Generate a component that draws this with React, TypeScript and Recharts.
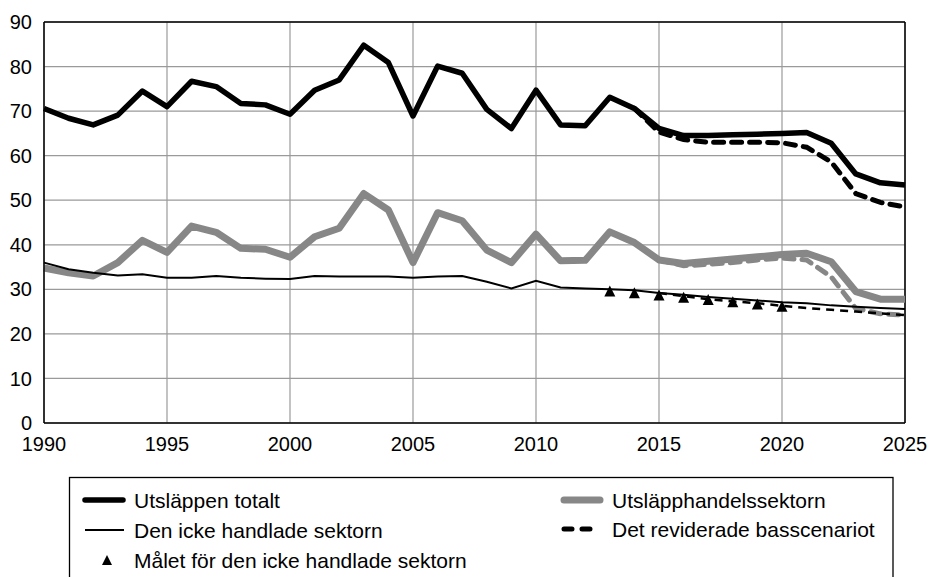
import React from "react";
import {
  CartesianGrid,
  ComposedChart,
  Line,
  ReferenceLine,
  XAxis,
  YAxis,
} from "recharts";

const years = Array.from({ length: 36 }, (_, i) => 1990 + i);

// Utsläppen totalt
const totalt = [
  70.6, 68.4, 66.9, 69.1, 74.5, 71.0, 76.7, 75.5, 71.7, 71.4, 69.3, 74.7,
  77.0, 84.8, 80.9, 68.9, 80.1, 78.5, 70.4, 66.1, 74.7, 66.9, 66.7, 73.1,
  70.6, 66.1, 64.5, 64.5, 64.7, 64.8, 65.0, 65.2, 62.8, 55.9, 53.9, 53.4,
];

// Utsläpphandelssektorn
const handel = [
  34.8, 33.7, 33.0, 36.0, 41.0, 38.3, 44.2, 42.8, 39.2, 39.0, 37.2, 41.8,
  43.7, 51.5, 47.8, 36.0, 47.2, 45.4, 38.8, 36.0, 42.4, 36.4, 36.5, 42.9,
  40.5, 36.6, 35.8, 36.3, 36.8, 37.3, 37.8, 38.1, 36.2, 29.5, 27.8, 27.8,
];

// Den icke handlade sektorn
const ickeHandlad = [
  36.0, 34.5, 33.7, 33.1, 33.4, 32.6, 32.6, 33.0, 32.6, 32.4, 32.3, 33.0,
  32.9, 32.9, 32.9, 32.6, 32.9, 33.0, 31.7, 30.2, 31.9, 30.4, 30.2, 30.0,
  29.8, 29.2, 28.8, 28.3, 27.9, 27.5, 27.1, 26.9, 26.4, 26.1, 25.8, 25.6,
];

// Det reviderade basscenariot (tre delar)
const scenTotaltStart = 2014;
const scenTotalt = [70.6, 65.3, 63.6, 63.0, 63.0, 63.0, 62.9, 61.9, 58.6, 51.5, 49.5, 48.5];
const scenHandelStart = 2015;
const scenHandel = [36.6, 35.3, 35.6, 36.0, 36.6, 37.0, 36.6, 32.8, 25.7, 24.5, 24.2];
const scenIckeStart = 2015;
const scenIcke = [29.2, 28.5, 27.8, 27.3, 26.9, 26.3, 25.8, 25.4, 25.0, 24.6, 24.2];

// Målet för den icke handlade sektorn
const malStart = 2013;
const mal = [29.5, 29.1, 28.6, 28.1, 27.6, 27.1, 26.6, 26.1];

const xTicks = [1990, 1995, 2000, 2005, 2010, 2015, 2020, 2025];
const yTicks = [0, 10, 20, 30, 40, 50, 60, 70, 80, 90];

const pick = (arr: number[], start: number, y: number) => {
  const i = y - start;
  return i >= 0 && i < arr.length ? arr[i] : null;
};

const data = years.map((year, i) => ({
  year,
  totalt: totalt[i],
  handel: handel[i],
  ickeHandlad: ickeHandlad[i],
  scenTotalt: pick(scenTotalt, scenTotaltStart, year),
  scenHandel: pick(scenHandel, scenHandelStart, year),
  scenIcke: pick(scenIcke, scenIckeStart, year),
  mal: pick(mal, malStart, year),
}));

const FONT = "'Liberation Sans', Arial, sans-serif";
const GRAY = "#878787";

const Triangle = (props: any) => {
  const { cx, cy, index, value } = props;
  if (value == null || cx == null || cy == null) return <g key={`t-${index}`} />;
  return (
    <polygon
      key={`t-${index}`}
      points={`${cx - 5.5},${cy + 5} ${cx + 5.5},${cy + 5} ${cx},${cy - 6}`}
      fill="#000"
    />
  );
};

function LegendBox() {
  const textStyle = { fontFamily: FONT, fontSize: 21, fill: "#000" };
  return (
    <svg
      width={933}
      height={577}
      style={{ position: "absolute", left: 0, top: 0, pointerEvents: "none" }}
    >
      <rect x={69.5} y={477.5} width={823.5} height={200} fill="none" stroke="#000" strokeWidth={1.3} />
      <line x1={85} x2={123} y1={500} y2={500} stroke="#000" strokeWidth={5.5} strokeLinecap="round" />
      <text x={134} y={500} dy="0.36em" style={textStyle}>Utsläppen totalt</text>
      <line x1={85} x2={124} y1={530} y2={530} stroke="#000" strokeWidth={2} />
      <text x={134} y={530} dy="0.36em" style={textStyle}>Den icke handlade sektorn</text>
      <polygon points="102,565 112,565 107,555" fill="#000" />
      <text x={134} y={560} dy="0.36em" style={textStyle}>Målet för den icke handlade sektorn</text>
      <line x1={564} x2={600} y1={500} y2={500} stroke={GRAY} strokeWidth={7} strokeLinecap="round" />
      <text x={612} y={500} dy="0.36em" style={textStyle}>Utsläpphandelssektorn</text>
      <line x1={564} x2={592} y1={529} y2={529} stroke="#000" strokeWidth={5} strokeDasharray="8 10" strokeLinecap="round" />
      <text x={612} y={529} dy="0.36em" style={textStyle}>Det reviderade basscenariot</text>
    </svg>
  );
}

export default function App() {
  return (
    <div
      style={{
        position: "absolute",
        left: 0,
        top: 0,
        width: 933,
        height: 577,
        overflow: "hidden",
        background: "#fff",
      }}
    >
      <ComposedChart
        width={933}
        height={577}
        data={data}
        margin={{ top: 22, right: 28, bottom: 124, left: 0 }}
        style={{ fontFamily: FONT }}
      >
        <CartesianGrid stroke="#9a9a9a" strokeWidth={1.2} />
        <XAxis
          dataKey="year"
          type="number"
          domain={[1990, 2025]}
          ticks={xTicks}
          height={30}
          tickLine={false}
          tickMargin={8}
          axisLine={{ stroke: "#000", strokeWidth: 1.5 }}
          tick={{ fontSize: 20, fill: "#000", fontFamily: FONT }}
          interval={0}
        />
        <YAxis
          type="number"
          domain={[0, 90]}
          ticks={yTicks}
          width={44}
          tickLine={false}
          tickMargin={6}
          axisLine={{ stroke: "#000", strokeWidth: 1.5 }}
          tick={{ fontSize: 20, fill: "#000", fontFamily: FONT }}
          interval={0}
        />
        <ReferenceLine y={90} stroke="#000" strokeWidth={1.5} />
        <ReferenceLine x={2025} stroke="#000" strokeWidth={1.5} />
        <Line dataKey="handel" stroke={GRAY} strokeWidth={7} dot={false} activeDot={false} isAnimationActive={false} strokeLinejoin="round" />
        <Line dataKey="scenHandel" stroke={GRAY} strokeWidth={5} strokeDasharray="10 8" strokeLinecap="round" dot={false} activeDot={false} isAnimationActive={false} />
        <Line dataKey="ickeHandlad" stroke="#000" strokeWidth={2} dot={false} activeDot={false} isAnimationActive={false} />
        <Line dataKey="scenIcke" stroke="#000" strokeWidth={2.5} strokeDasharray="8 6" dot={false} activeDot={false} isAnimationActive={false} />
        <Line dataKey="totalt" stroke="#000" strokeWidth={5.5} dot={false} activeDot={false} isAnimationActive={false} strokeLinejoin="round" />
        <Line dataKey="scenTotalt" stroke="#000" strokeWidth={5} strokeDasharray="10 8" strokeLinecap="round" dot={false} activeDot={false} isAnimationActive={false} />
        <Line dataKey="mal" stroke="none" dot={Triangle} activeDot={false} isAnimationActive={false} />
      </ComposedChart>
      <LegendBox />
    </div>
  );
}
